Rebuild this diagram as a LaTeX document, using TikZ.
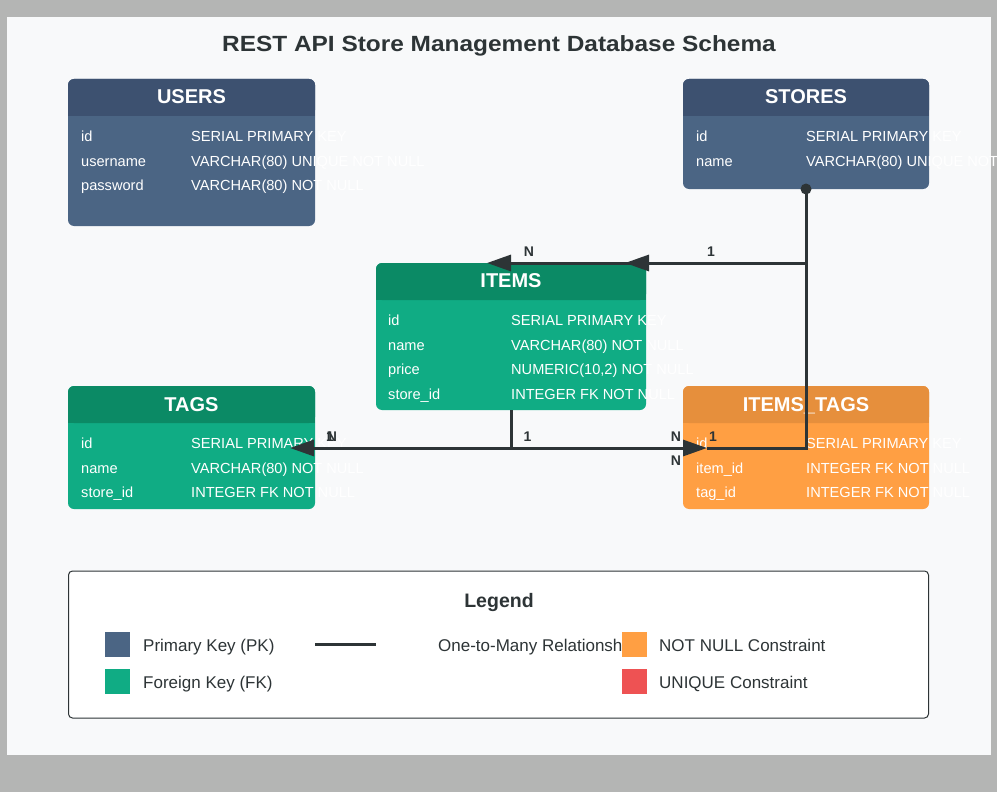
\documentclass[tikz,border=0pt]{standalone}
\usepackage{fontspec}
\setmainfont{Liberation Sans}
\newfontfamily\titlefont[FakeStretch=1.11]{Liberation Sans}
\usetikzlibrary{arrows.meta}
\definecolor{bgray}{HTML}{B4B5B4}
\definecolor{panel}{HTML}{F8F9FA}
\definecolor{pkblue}{HTML}{4B6584}
\definecolor{pkhead}{HTML}{3D5170}
\definecolor{fkgreen}{HTML}{10AC84}
\definecolor{fkhead}{HTML}{0B8A65}
\definecolor{nnorange}{HTML}{FF9F43}
\definecolor{nnhead}{HTML}{E68F3C}
\definecolor{uqred}{HTML}{EE5253}
\definecolor{ink}{HTML}{2D3436}
\tikzset{
 fld/.style={anchor=base west, inner sep=0pt, text=white, font=\fontsize{14.6}{17}\selectfont},
 ttl/.style={anchor=base, inner sep=0pt, text=white, font=\bfseries\fontsize{20}{24}\selectfont},
 conn/.style={draw=ink, line width=3pt},
 tipped/.style={-{Triangle[length=24pt,width=16pt]}},
 card/.style={font=\bfseries\fontsize{14}{16}\selectfont, text=ink, anchor=base, inner sep=0pt},
 legtxt/.style={anchor=base west, inner sep=0pt, text=ink, font=\fontsize{17}{20}\selectfont},
 swatch/.style={minimum width=25pt, minimum height=25pt, inner sep=0pt, anchor=north west},
}
\newcommand\dbtable[7]{%
  \node[fill=#6, rounded corners=6pt, inner sep=0pt, outer sep=0pt,
        minimum width={(#4-#2)*1pt}, minimum height={(#5-#3)*1pt}]
        (#1) at ({(#2+#4)/2},{(#3+#5)/2}) {};
  \fill[#7, rounded corners=6pt] (#2,#3) rectangle (#4,{#3+37});
  \fill[#7] (#2,{#3+20}) rectangle (#4,{#3+37});
}
\begin{document}
\begin{tikzpicture}[x=1pt,y=-1pt]
\useasboundingbox (0,0) rectangle (997,792);
\fill[bgray] (0,0) rectangle (997,792);
\fill[panel] (7,17) rectangle (991,755);
\node[anchor=base, inner sep=0pt, text=ink, font=\titlefont\bfseries\fontsize{22}{26}\selectfont] (title) at (499,52) {REST API Store Management Database Schema};

% USERS
\dbtable{users}{68}{79}{315}{226}{pkblue}{pkhead}
\node[ttl] (usersT) at (191.5,103.3) {USERS};
\node[fld] (u1a) at (81,141.5) {id};
\node[fld] (u1b) at (191,141.5) {SERIAL PRIMARY KEY};
\node[fld] (u2a) at (81,166) {username};
\node[fld] (u2b) at (191,166) {VARCHAR(80) UNIQUE NOT NULL};
\node[fld] (u3a) at (81,190.5) {password};
\node[fld] (u3b) at (191,190.5) {VARCHAR(80) NOT NULL};

% STORES
\dbtable{stores}{683}{79}{929}{189}{pkblue}{pkhead}
\node[ttl] (storesT) at (806,103.3) {STORES};
\node[fld] (s1a) at (696,141.5) {id};
\node[fld] (s1b) at (806,141.5) {SERIAL PRIMARY KEY};
\node[fld] (s2a) at (696,166) {name};
\node[fld] (s2b) at (806,166) {VARCHAR(80) UNIQUE NOT NULL};

% ITEMS
\dbtable{items}{376}{263}{646}{410}{fkgreen}{fkhead}
\node[ttl] (itemsT) at (511,287.7) {ITEMS};
\node[fld] (i1a) at (388,325.5) {id};
\node[fld] (i1b) at (511,325.5) {SERIAL PRIMARY KEY};
\node[fld] (i2a) at (388,350) {name};
\node[fld] (i2b) at (511,350) {VARCHAR(80) NOT NULL};
\node[fld] (i3a) at (388,374.5) {price};
\node[fld] (i3b) at (511,374.5) {NUMERIC(10,2) NOT NULL};
\node[fld] (i4a) at (388,399) {store\_id};
\node[fld] (i4b) at (511,399) {INTEGER FK NOT NULL};

% TAGS
\dbtable{tags}{68}{386}{315}{509}{fkgreen}{fkhead}
\node[ttl] (tagsT) at (191.5,411) {TAGS};
\node[fld] (t1a) at (81,448.5) {id};
\node[fld] (t1b) at (191,448.5) {SERIAL PRIMARY KEY};
\node[fld] (t2a) at (81,473) {name};
\node[fld] (t2b) at (191,473) {VARCHAR(80) NOT NULL};
\node[fld] (t3a) at (81,497.5) {store\_id};
\node[fld] (t3b) at (191,497.5) {INTEGER FK NOT NULL};

% ITEMS_TAGS
\dbtable{itemstags}{683}{386}{929}{509}{nnorange}{nnhead}
\node[ttl] (itemstagsT) at (806,411) {ITEMS\_TAGS};
\node[fld] (it1a) at (696,448.5) {id};
\node[fld] (it1b) at (806,448.5) {SERIAL PRIMARY KEY};
\node[fld] (it2a) at (696,473) {item\_id};
\node[fld] (it2b) at (806,473) {INTEGER FK NOT NULL};
\node[fld] (it3a) at (696,497.5) {tag\_id};
\node[fld] (it3b) at (806,497.5) {INTEGER FK NOT NULL};

% connectors
\coordinate (ja) at (806,263);
\coordinate (jb) at (806,448);
\coordinate (jc) at (511,448);
\coordinate (tipA) at (625,263);
\coordinate (tipA2) at (487,263);
\coordinate (tipT) at (290,448);
\coordinate (tipIT) at (707,448);
\draw[conn] (stores.south) -- (ja) -- (jb) -- (tipIT);
\draw[conn, tipped] (ja) -- (tipA);
\draw[conn, tipped] (items.north east) -- (tipA2);
\draw[conn] (items.south) -- (jc);
\draw[conn, tipped] (jc) -- (tipT);
\draw[conn, tipped] (jc) -- (tipIT);
\fill[ink] (stores.south) circle (5.5pt);

% cardinality labels
\node[card] (cN1) at (529,256.7) {N};
\node[card] (c11) at (711,256.7) {1};
\node[card] (cN2) at (332,441.7) {N};
\node[card] (c12) at (330,441.7) {1};
\node[card] (c13) at (527.5,441.7) {1};
\node[card] (cN3) at (676,441.7) {N};
\node[card] (cN4) at (676,465) {N};
\node[card] (c14) at (713,441.5) {1};

% legend
\node[draw=ink, fill=white, rounded corners=4pt, line width=1pt, inner sep=0pt,
      minimum width=860pt, minimum height=147pt] (legend) at (498.5,644.5) {};
\node[anchor=base, inner sep=0pt, text=ink, font=\bfseries\fontsize{19.5}{23}\selectfont] (legendT) at (499,607.7) {Legend};
\node[swatch, fill=pkblue] (lpk) at (105,632) {};
\node[swatch, fill=fkgreen] (lfk) at (105,669) {};
\node[legtxt] (lpkT) at (143,651.5) {Primary Key (PK)};
\node[legtxt] (lfkT) at (143,688.5) {Foreign Key (FK)};
\coordinate (ll1) at (315,644.5);
\coordinate (ll2) at (376,644.5);
\draw[conn] (ll1) -- (ll2);
\node[legtxt] (lrelT) at (438,651.5) {One-to-Many Relationsh};
\node[swatch, fill=nnorange] (lnn) at (622,632) {};
\node[swatch, fill=uqred] (luq) at (622,669) {};
\node[legtxt] (lnnT) at (659,651.5) {NOT NULL Constraint};
\node[legtxt] (luqT) at (659,688.5) {UNIQUE Constraint};
\end{tikzpicture}
\end{document}
